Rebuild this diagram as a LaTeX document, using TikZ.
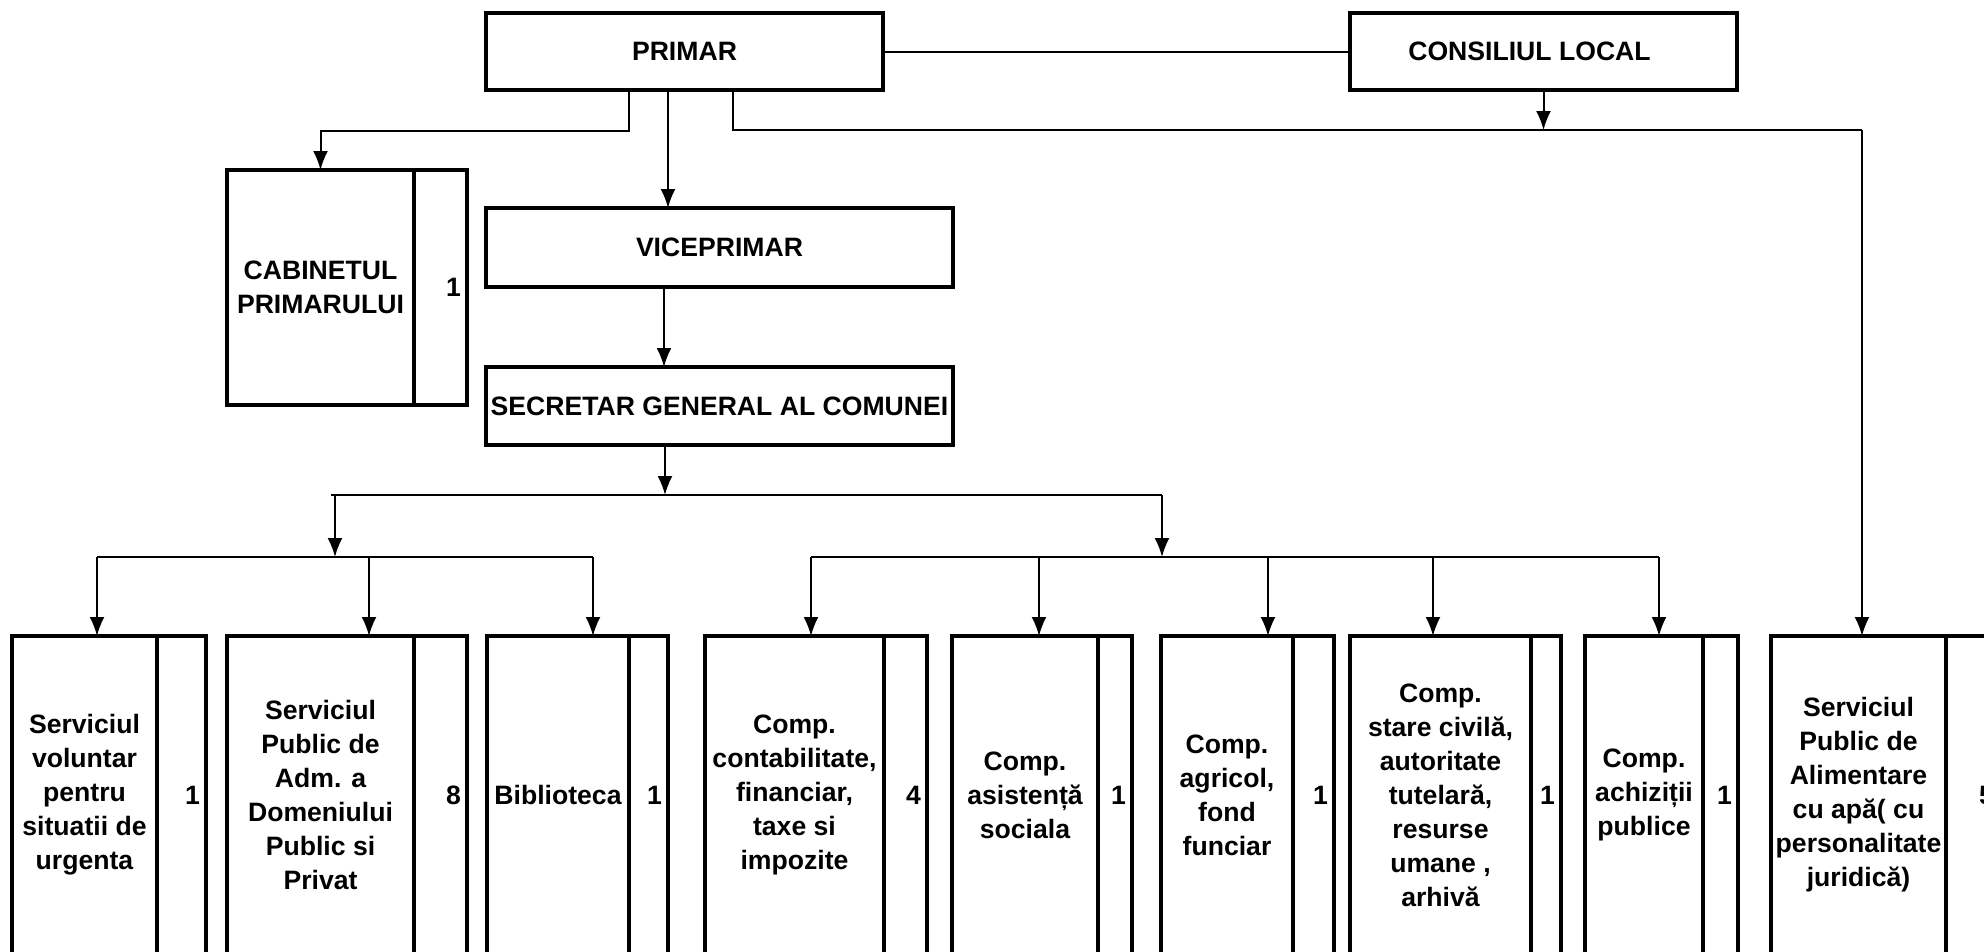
\documentclass[tikz,border=0pt]{standalone}
\usepackage{fontspec}
\setmainfont{Liberation Sans}
\usetikzlibrary{positioning, arrows.meta}

\begin{document}
\begin{tikzpicture}[
                x=1pt, y=-1pt,
                font=\bfseries\fontsize{26.6}{34}\selectfont,
                >={Latex[length=19pt,width=15pt]},
                line width=2pt,
                box/.style={draw, line width=3.3pt, inner sep=0pt, outer sep=0pt, align=center},
                col/.style={box, minimum height=318pt, anchor=west},
                num/.style={box, minimum height=318pt, text width=#1, align=right, inner xsep=6pt}]

    \useasboundingbox (0,0) rectangle (1984,951);

    %%% NODES
    \node [box, minimum width=397pt, minimum height=77pt] (primar) at (684.5,51.5) {PRIMAR};
    \node [box, minimum width=387pt, minimum height=77pt] (consiliul) at (1543.5,51.5) {CONSILIUL LOCAL\hspace*{28pt}};
    \node [box, minimum width=467pt, minimum height=79pt] (viceprimar) at (719.5,247.5) {VICEPRIMAR};
    \node [box, minimum width=467pt, minimum height=78pt] (secretar) at (719.5,406) {SECRETAR GENERAL AL COMUNEI};
    \node [col, minimum width=187pt, minimum height=235pt] (cabinet) at (227,287.5) {CABINETUL\\PRIMARULUI};
    \node [num=41pt, minimum height=235pt, right=0pt of cabinet] (cabinetnr) {1};

    \node [col, minimum width=145pt] (servvoluntar) at (12,795) {Serviciul\\voluntar\\pentru\\situatii de\\urgenta};
    \node [num=37pt, right=0pt of servvoluntar] (servvoluntarnr) {1};
    \node [col, minimum width=187pt] (servpublic) at (227,795) {Serviciul\\Public de\\Adm. a\\Domeniului\\Public si\\Privat};
    \node [num=41pt, right=0pt of servpublic] (servpublicnr) {8};
    \node [col, minimum width=142pt] (biblioteca) at (487,795) {Biblioteca};
    \node [num=27pt, right=0pt of biblioteca] (bibliotecanr) {1};
    \node [col, minimum width=179pt] (contabilitate) at (705,795) {Comp.\\contabilitate,\\financiar,\\taxe si\\impozite};
    \node [num=31pt, right=0pt of contabilitate] (contabilitatenr) {4};
    \node [col, minimum width=146pt] (asistenta) at (952,795) {Comp.\\asistență\\sociala};
    \node [num=22pt, right=0pt of asistenta] (asistentanr) {1};
    \node [col, minimum width=132pt] (agricol) at (1161,795) {Comp.\\agricol,\\fond\\funciar};
    \node [num=29pt, right=0pt of agricol] (agricolnr) {1};
    \node [col, minimum width=181pt] (starecivila) at (1350,795) {Comp.\\stare civilă,\\autoritate\\tutelară,\\resurse\\umane ,\\arhivă};
    \node [num=18pt, right=0pt of starecivila] (starecivilanr) {1};
    \node [col, minimum width=118pt] (achizitii) at (1585,795) {Comp.\\achiziții\\publice};
    \node [num=23pt, right=0pt of achizitii] (achizitiinr) {1};
    \node [col, minimum width=175pt] (alimentare) at (1771,795) {Serviciul\\Public de\\Alimentare\\cu apă( cu\\personalitate\\juridică)};
    \node [num=42pt, right=0pt of alimentare] (alimentarenr) {5};

    %%% JUNCTIONS
    \coordinate (leftturn) at (629,131);
    \coordinate (rightturn) at (733,130);
    \coordinate (rightend) at (1862,130);
    \coordinate (vicex) at (668,0);
    \coordinate (secx) at (664,0);
    \coordinate (barx) at (665,0);
    \coordinate (barleft) at (331,495);
    \coordinate (barright) at (1162,495);
    \coordinate (leftdrop) at (335,495);
    \coordinate (subleft) at (97,557);
    \coordinate (submid) at (369,557);
    \coordinate (subleftend) at (593,557);
    \coordinate (subright) at (811,557);
    \coordinate (subright2) at (1039,557);
    \coordinate (subright3) at (1268,557);
    \coordinate (subright4) at (1433,557);
    \coordinate (subrightend) at (1659,557);

    %%% CONNECTIONS
    \draw (primar) -- (consiliul);
    \draw [->] (primar.south -| leftturn) -- (leftturn) -| (cabinet.north);
    \draw [->] (primar.south -| vicex) -- (viceprimar.north -| vicex);
    \draw (primar.south -| rightturn) -- (rightturn) -- (rightend);
    \draw [->] (consiliul.south) -- (consiliul.south |- rightturn);
    \draw [->] (rightend) -- (alimentare.north -| rightend);
    \draw [->] (viceprimar.south -| secx) -- (secretar.north -| secx);
    \draw [->] (secretar.south -| barx) -- (barleft -| barx);
    \draw (barleft) -- (barright);

    \draw [->] (leftdrop) -- (leftdrop |- subleft);
    \draw (subleft) -- (subleftend);
    \draw [->] (subleft) -- (servvoluntar.north -| subleft);
    \draw [->] (submid) -- (servpublic.north -| submid);
    \draw [->] (subleftend) -- (biblioteca.north -| subleftend);

    \draw [->] (barright) -- (barright |- subright);
    \draw (subright) -- (subrightend);
    \draw [->] (subright) -- (contabilitate.north -| subright);
    \draw [->] (subright2) -- (asistenta.north -| subright2);
    \draw [->] (subright3) -- (agricol.north -| subright3);
    \draw [->] (subright4) -- (starecivila.north -| subright4);
    \draw [->] (subrightend) -- (achizitii.north -| subrightend);

\end{tikzpicture}
\end{document}
